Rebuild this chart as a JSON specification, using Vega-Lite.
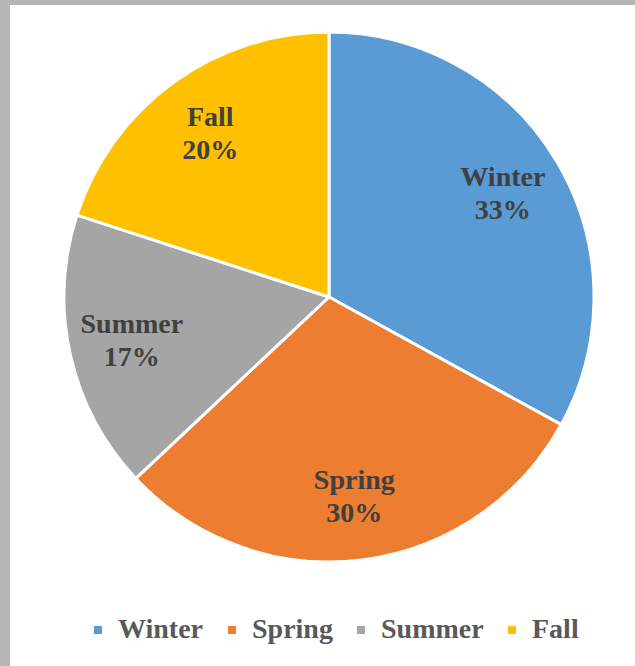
{
  "$schema": "https://vega.github.io/schema/vega-lite/v6.json",
  "width": 625,
  "height": 661,
  "autosize": {"type": "none"},
  "padding": {"left": 10, "top": 5, "right": 0, "bottom": 0},
  "background": "#b6b6b6",
  "view": {"fill": "#ffffff", "stroke": null},
  "config": {
    "legend": {
      "labelFont": "Liberation Serif",
      "labelFontWeight": "bold",
      "labelFontSize": 28,
      "labelColor": "#595959",
      "gridAlign": "none"
    }
  },
  "data": {
    "values": [
      {"season": "Winter", "value": 0.33, "order": 1},
      {"season": "Spring", "value": 0.30, "order": 2},
      {"season": "Summer", "value": 0.17, "order": 3},
      {"season": "Fall", "value": 0.20, "order": 4}
    ]
  },
  "encoding": {
    "theta": {"field": "value", "type": "quantitative", "stack": true},
    "order": {"field": "order", "type": "quantitative"}
  },
  "layer": [
    {
      "mark": {"type": "arc", "outerRadius": 265, "x": 319, "y": 292, "stroke": "#ffffff", "strokeWidth": 3},
      "encoding": {
        "color": {
          "field": "season",
          "type": "nominal",
          "sort": ["Winter", "Spring", "Summer", "Fall"],
          "scale": {"domain": ["Winter", "Spring", "Summer", "Fall"], "range": ["#5b9bd5", "#ed7d31", "#a5a5a5", "#ffc000"]},
          "legend": {
            "title": null,
            "orient": "none",
            "direction": "horizontal",
            "legendX": 74,
            "legendY": 611,
            "symbolType": "square",
            "symbolSize": 64,
            "symbolStrokeWidth": 0,
            "labelFont": "Liberation Serif",
            "labelFontWeight": "bold",
            "labelFontSize": 28,
            "labelColor": "#595959",
            "labelOffset": 6,
            "columnPadding": 14,
            "gridAlign": "none",
            "labelLimit": 300
          }
        }
      }
    },
    {
      "mark": {"type": "text", "radius": 202, "x": 319, "y": 292, "dy": -16, "font": "Liberation Serif", "fontWeight": "bold", "fontSize": 28, "color": "#404040"},
      "encoding": {"text": {"field": "season", "type": "nominal"}}
    },
    {
      "mark": {"type": "text", "radius": 202, "x": 319, "y": 292, "dy": 17, "font": "Liberation Serif", "fontWeight": "bold", "fontSize": 28, "color": "#404040"},
      "encoding": {"text": {"field": "value", "type": "quantitative", "format": ".0%"}}
    }
  ]
}
